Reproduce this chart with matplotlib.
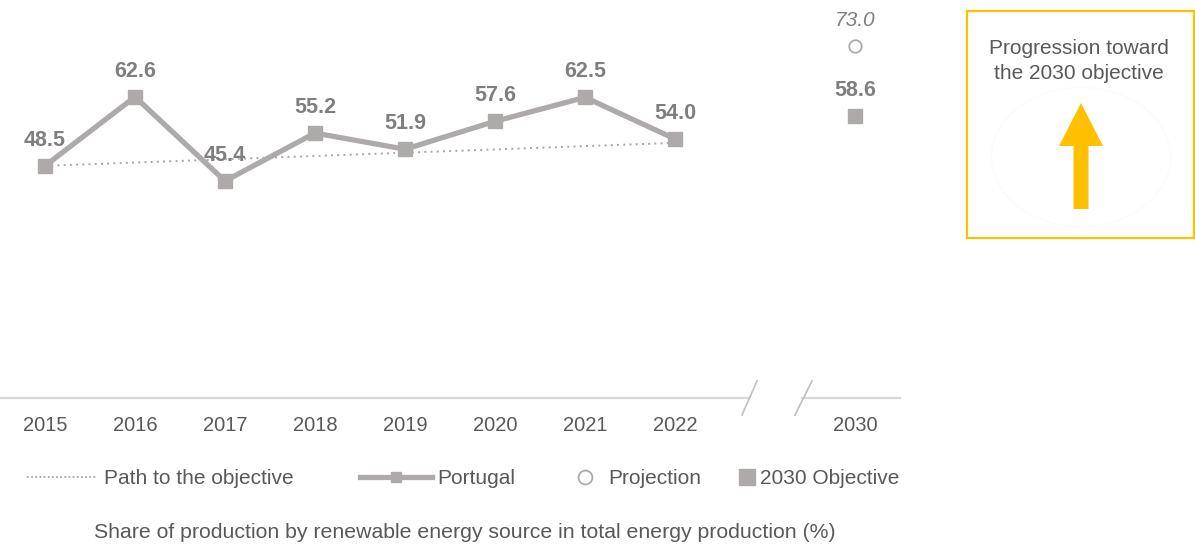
import matplotlib
matplotlib.use("Agg")
import matplotlib.pyplot as plt
from matplotlib.lines import Line2D
from matplotlib.patches import Rectangle, FancyArrow, Ellipse

plt.rcParams['font.family'] = ['Liberation Sans', 'DejaVu Sans']

# ---- data ----
years = ["2015", "2016", "2017", "2018", "2019", "2020", "2021", "2022"]
portugal = [48.5, 62.6, 45.4, 55.2, 51.9, 57.6, 62.5, 54.0]
path_years = ["2015", "2022"]
path_values = [48.5, 53.2]
target_label = "2030"
projection_2030 = 73.0
objective_2030 = 58.6
tick_labels = years + ["", target_label]

legend_labels = ["Path to the objective", "Portugal", "Projection", "2030 Objective"]
subtitle = "Share of production by renewable energy source in total energy production (%)"
box_text = "Progression toward\nthe 2030 objective"

# ---- styles ----
LINE_C = "#AEAAAA"
LABEL_C = "#7F7F7F"
TEXT_C = "#595959"
DOT_C = "#A6A6A6"
YELLOW = "#FFC000"

W, H = 1195, 544
ZERO_PX = 403
PX_PER_UNIT = 4.89
fig = plt.figure(figsize=(W / 100, H / 100), dpi=100)
ax = fig.add_axes([0, (H - ZERO_PX) / H, 900 / W, ZERO_PX / H])


def fx(px):
    return px / W


def fy(py):
    return 1 - py / H


xpos = list(range(len(years)))
x_of = {y: i for i, y in enumerate(years)}
x2030 = len(tick_labels) - 1

ax.plot([x_of[y] for y in path_years], path_values, color=DOT_C, lw=1.4,
        linestyle=(0, (1, 2.2)), zorder=2)
ax.plot(xpos, portugal, color=LINE_C, lw=3.8, marker="s", markersize=9.5,
        zorder=3, solid_joinstyle="miter")
ax.plot([x2030], [projection_2030], marker="o", markersize=9, mfc="white",
        mec=LINE_C, mew=1.3, linestyle="none", zorder=3)
ax.plot([x2030], [objective_2030], marker="s", markersize=9.5, color=LINE_C,
        linestyle="none", zorder=3)

OFF = 18.5
for x, v in zip(xpos, portugal):
    ax.annotate(f"{v:.1f}", (x, v), xytext=(0, OFF), textcoords="offset points",
                ha="center", va="center", fontsize=15.5, fontweight="bold", color=LABEL_C)
ax.annotate(f"{objective_2030:.1f}", (x2030, objective_2030), xytext=(0, OFF),
            textcoords="offset points", ha="center", va="center", fontsize=15.5,
            fontweight="bold", color=LABEL_C)
ax.annotate(f"{projection_2030:.1f}", (x2030, projection_2030), xytext=(0, OFF),
            textcoords="offset points", ha="center", va="center", fontsize=15,
            fontstyle="italic", color=LABEL_C)

ax.set_xlim(-0.5, len(tick_labels) - 0.5)
ax.set_ylim(0, ZERO_PX / PX_PER_UNIT)
for s in ax.spines.values():
    s.set_visible(False)
ax.set_yticks([])
ax.set_xticks(range(len(tick_labels)))
ax.set_xticklabels(tick_labels, fontsize=14.5, color=TEXT_C)
ax.tick_params(axis="x", length=0, pad=9.5)
ax.patch.set_alpha(0)

# broken axis line (figure pixel coords)
axis_c = "#D9D9D9"
fig.add_artist(Line2D([fx(0), fx(748)], [fy(398), fy(398)], color=axis_c, lw=1.6))
fig.add_artist(Line2D([fx(802), fx(900)], [fy(398), fy(398)], color=axis_c, lw=1.6))
fig.add_artist(Line2D([fx(757), fx(742)], [fy(381), fy(415)], color="#BFBFBF", lw=1.2))
fig.add_artist(Line2D([fx(812), fx(795)], [fy(381), fy(415)], color="#BFBFBF", lw=1.2))

# legend (drawn item by item)
LY = fy(477)
TY = fy(479)
fig.add_artist(Line2D([fx(27), fx(97)], [LY, LY], color=DOT_C, lw=1.3,
                      linestyle=(0, (1, 1.3))))
fig.text(fx(104), TY, legend_labels[0], ha="left", va="center", fontsize=15, color=TEXT_C)
fig.add_artist(Line2D([fx(360), fx(432)], [LY, LY], color=LINE_C, lw=3.8))
fig.add_artist(Line2D([fx(396)], [LY], color=LINE_C, marker="s", markersize=7,
                      linestyle="none"))
fig.text(fx(437), TY, legend_labels[1], ha="left", va="center", fontsize=15, color=TEXT_C)
fig.add_artist(Line2D([fx(585)], [LY], marker="o", mfc="white", mec=LINE_C,
                      mew=1.3, markersize=10, linestyle="none"))
fig.text(fx(608), TY, legend_labels[2], ha="left", va="center", fontsize=15, color=TEXT_C)
fig.add_artist(Line2D([fx(747)], [LY], marker="s", color=LINE_C, markersize=11,
                      linestyle="none"))
fig.text(fx(760), TY, legend_labels[3], ha="left", va="center", fontsize=15, color=TEXT_C)

fig.text(fx(465), fy(532), subtitle, ha="center", va="center", fontsize=15.3, color=TEXT_C)

# side box
fig.add_artist(Rectangle((fx(967), fy(238)), fx(1194 - 967), (238 - 11) / H,
                         fill=False, edgecolor=YELLOW, lw=1.6))
fig.text(fx(1079), fy(61), box_text, ha="center", va="center", fontsize=15,
         color=TEXT_C, linespacing=1.4)
bax = fig.add_axes([fx(967), fy(238), fx(227), 227 / H])
bax.set_xlim(967, 1194)
bax.set_ylim(238, 11)
bax.axis("off")
bax.add_patch(Ellipse((1081, 157), 179, 139, fill=False, edgecolor="#FBFBFB", lw=1))
bax.add_patch(FancyArrow(1081, 209, 0, -106, width=15, head_width=44,
                         head_length=43, length_includes_head=True,
                         color=YELLOW, lw=0))

fig.savefig("out.png", dpi=100)
